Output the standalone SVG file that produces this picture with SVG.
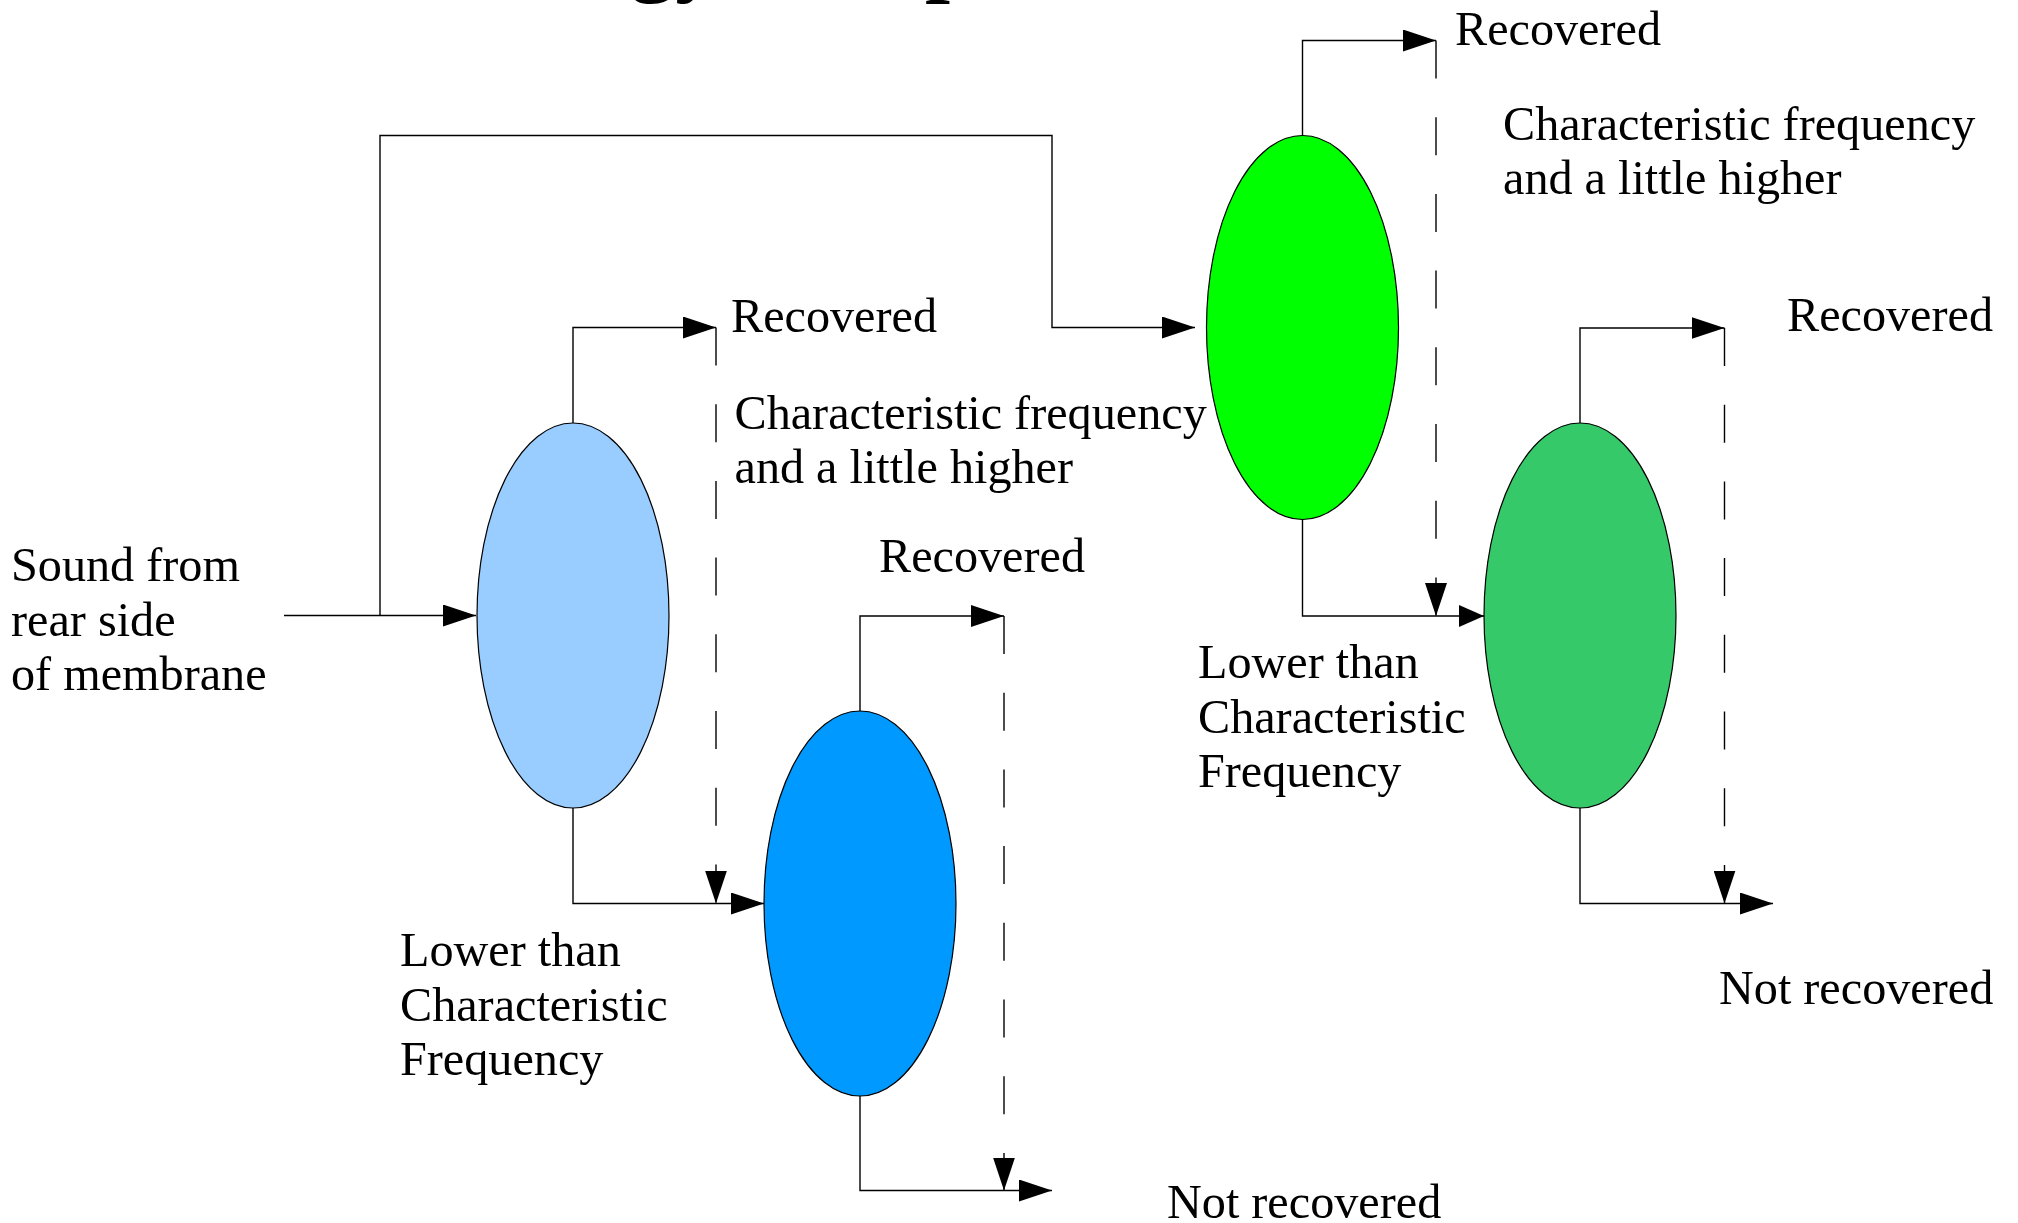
<svg xmlns="http://www.w3.org/2000/svg" width="2018" height="1223" viewBox="0 0 2018 1223">
  <style>
    .lbl { font-family: "Liberation Serif", "Times New Roman", serif; font-size: 48.2px; fill: #000; }
    .ttl { font-family: "Liberation Serif", "Times New Roman", serif; font-size: 90px; font-weight: bold; fill: #000; }
    .conn { fill: none; stroke: #000; stroke-width: 1.4; }
    .dash { fill: none; stroke: #000; stroke-width: 1.4; stroke-dasharray: 38 38.7; }
    .node { stroke: #000; stroke-width: 1.2; }
  </style>
  <defs>
    <marker id="arrow" markerUnits="userSpaceOnUse" markerWidth="33" markerHeight="22" viewBox="0 0 33 22" refX="33" refY="11" orient="auto">
      <path d="M0,0 L33,11 L0,22 Z" fill="#000"/>
    </marker>
    <marker id="arrowS" markerUnits="userSpaceOnUse" markerWidth="25" markerHeight="22" viewBox="0 0 25 22" refX="25" refY="11" orient="auto">
      <path d="M0,0 L25,11 L0,22 Z" fill="#000"/>
    </marker>
  </defs>
  <rect width="2018" height="1223" fill="#fff"/>

  <g id="title">
    <text class="ttl" x="630" y="-15">gy</text>
    <text class="ttl" x="925" y="-15">p</text>
  </g>

  <g id="connectors">
    <path class="conn" d="M284,615.5 H476" marker-end="url(#arrow)"/>
    <path class="conn" d="M380,615.5 V135.5 H1052 V327.5 H1195" marker-end="url(#arrow)"/>
    <path class="conn" d="M573,423 V327.5 H716" marker-end="url(#arrow)"/>
    <path class="dash" d="M716,327.5 V903.5" marker-end="url(#arrow)"/>
    <path class="conn" d="M573,808 V903.5 H764" marker-end="url(#arrow)"/>
    <path class="conn" d="M860,711 V616 H1004" marker-end="url(#arrow)"/>
    <path class="dash" d="M1004,616 V1190.5" marker-end="url(#arrow)"/>
    <path class="conn" d="M860,1096 V1190.5 H1052" marker-end="url(#arrow)"/>
    <path class="conn" d="M1302.5,135.5 V40.5 H1436" marker-end="url(#arrow)"/>
    <path class="dash" d="M1436,40.5 V616" marker-end="url(#arrow)"/>
    <path class="conn" d="M1302.5,519.5 V616 H1484" marker-end="url(#arrowS)"/>
    <path class="conn" d="M1580,423 V328 H1724.5" marker-end="url(#arrow)"/>
    <path class="dash" d="M1724.5,328 V903.5" marker-end="url(#arrow)"/>
    <path class="conn" d="M1580,808 V903.5 H1773" marker-end="url(#arrow)"/>
  </g>

  <g id="node-e1">
    <ellipse class="node" cx="573" cy="615.5" rx="96" ry="192.5" fill="#99CCFF"/>
  </g>
  <g id="node-e2">
    <ellipse class="node" cx="860" cy="903.5" rx="96" ry="192.5" fill="#0099FF"/>
  </g>
  <g id="node-e3">
    <ellipse class="node" cx="1302.5" cy="327.5" rx="96" ry="192" fill="#00FF00"/>
  </g>
  <g id="node-e4">
    <ellipse class="node" cx="1580" cy="615.5" rx="96" ry="192.5" fill="#35C969"/>
  </g>

  <g id="labels">
    <text class="lbl" x="11" y="581">Sound from</text>
    <text class="lbl" x="11" y="636">rear side</text>
    <text class="lbl" x="11" y="690">of membrane</text>

    <text class="lbl" x="731" y="332">Recovered</text>
    <text class="lbl" x="734.5" y="428.5">Characteristic frequency</text>
    <text class="lbl" x="734.5" y="482.5">and a little higher</text>

    <text class="lbl" x="879" y="572">Recovered</text>

    <text class="lbl" x="400" y="966">Lower than</text>
    <text class="lbl" x="400" y="1021">Characteristic</text>
    <text class="lbl" x="400" y="1075">Frequency</text>

    <text class="lbl" x="1167" y="1218">Not recovered</text>

    <text class="lbl" x="1455" y="45">Recovered</text>
    <text class="lbl" x="1503" y="140">Characteristic frequency</text>
    <text class="lbl" x="1503" y="194">and a little higher</text>

    <text class="lbl" x="1198" y="678">Lower than</text>
    <text class="lbl" x="1198" y="732.5">Characteristic</text>
    <text class="lbl" x="1198" y="787">Frequency</text>

    <text class="lbl" x="1787" y="331">Recovered</text>
    <text class="lbl" x="1719" y="1004">Not recovered</text>
  </g>
</svg>
